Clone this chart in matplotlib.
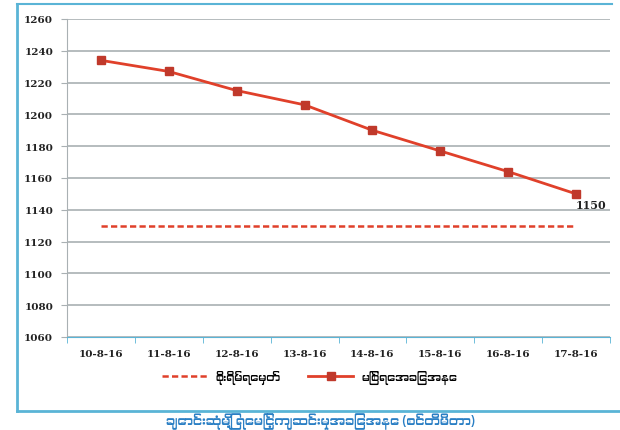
# River level vs danger level, Aug 2016
import matplotlib
matplotlib.use("Agg")
import matplotlib.pyplot as plt
from matplotlib import font_manager
from matplotlib.lines import Line2D

dates = ["10-8-16", "11-8-16", "12-8-16", "13-8-16",
         "14-8-16", "15-8-16", "16-8-16", "17-8-16"]
river_level = [1234, 1227, 1215, 1206, 1190, 1177, 1164, 1150]
danger_level = [1130] * len(dates)
y_ticks = list(range(1060, 1261, 20))

danger_label = "စိုးရိမ်ရေမှတ်"
river_label = "မြစ်ရေအခြေအနေ"
caption = "ချောင်းဆုံမြို့ ရေမြင့်ကျဆင်းမှုအခြေအနေ (စင်တီမီတာ)"

# look for any installed font that has Myanmar glyphs
my_fonts = []
for f in font_manager.fontManager.ttflist:
    n = f.name.lower()
    if "myanmar" in n or "padauk" in n or "myanmar" in f.fname.lower():
        if f.name not in my_fonts:
            my_fonts.append(f.name)
fam = my_fonts + ["DejaVu Sans"]

RED = "#e0402a"
MARK = "#c0392b"
GRID = "#a9b0b3"
BLUE = "#5ab4d6"

fig = plt.figure(figsize=(6.2, 4.31), dpi=100)
ax = fig.add_axes([67 / 620, 1 - 338 / 431, 543 / 620, 318 / 431])

x = list(range(len(dates)))
ax.plot(x, danger_level, color=RED, linestyle=(0, (2.5, 1.3)), linewidth=1.8)
ax.plot(x, river_level, color=RED, linewidth=2.0, marker="s", markersize=6,
        markerfacecolor=MARK, markeredgecolor=MARK)
ax.text(x[-1], river_level[-1] - 3, str(river_level[-1]), ha="left", va="top",
        fontsize=8, fontweight="bold", color="#222222", family="DejaVu Serif")

ax.set_xlim(-0.5, len(dates) - 0.5)
ax.set_ylim(1060, 1260)
ax.set_yticks(y_ticks)
ax.set_yticklabels([str(v) for v in y_ticks], fontsize=7.5, fontweight="bold",
                   color="#222222", family="DejaVu Serif")
ax.set_xticks(x)
ax.set_xticklabels(dates, fontsize=7.5, fontweight="bold", color="#222222",
                   family="DejaVu Serif")
ax.tick_params(axis="x", length=0, pad=9)
ax.tick_params(axis="y", length=4, color=GRID, pad=6)
ax.set_xticks([i - 0.5 for i in range(len(dates) + 1)], minor=True)
ax.tick_params(axis="x", which="minor", length=4, color=BLUE)
ax.grid(axis="y", color=GRID, linewidth=1.2)
ax.set_axisbelow(True)
for s in ["top", "right"]:
    ax.spines[s].set_visible(False)
ax.spines["left"].set_color(GRID)
ax.spines["bottom"].set_color(BLUE)

handles = [
    Line2D([], [], color=RED, linestyle=(0, (2.5, 1.3)), linewidth=1.8),
    Line2D([], [], color=RED, linewidth=2.0, marker="s", markersize=6,
           markerfacecolor=MARK, markeredgecolor=MARK),
]
fig.legend(handles, [danger_label, river_label], loc="center",
           bbox_to_anchor=(310 / 620, 1 - 378 / 431), ncol=2, frameon=False,
           prop={"family": fam, "size": 8, "weight": "bold"}, handlelength=4,
           columnspacing=2.5)

# outer frame
fig.add_artist(Line2D([17 / 620, 17 / 620], [1 - 5 / 431, 1 - 412 / 431],
                      color=BLUE, linewidth=2, transform=fig.transFigure))
fig.add_artist(Line2D([17 / 620, 612 / 620], [1 - 5 / 431, 1 - 5 / 431],
                      color=BLUE, linewidth=1.5, transform=fig.transFigure))
fig.add_artist(Line2D([17 / 620, 1.0], [1 - 412 / 431, 1 - 412 / 431],
                      color=BLUE, linewidth=2, transform=fig.transFigure))

fig.text(320 / 620, 1 - 430 / 431, caption, ha="center", va="bottom",
         color="#2a7fc4", fontsize=9, family=fam)

fig.savefig("out.png", dpi=100)
